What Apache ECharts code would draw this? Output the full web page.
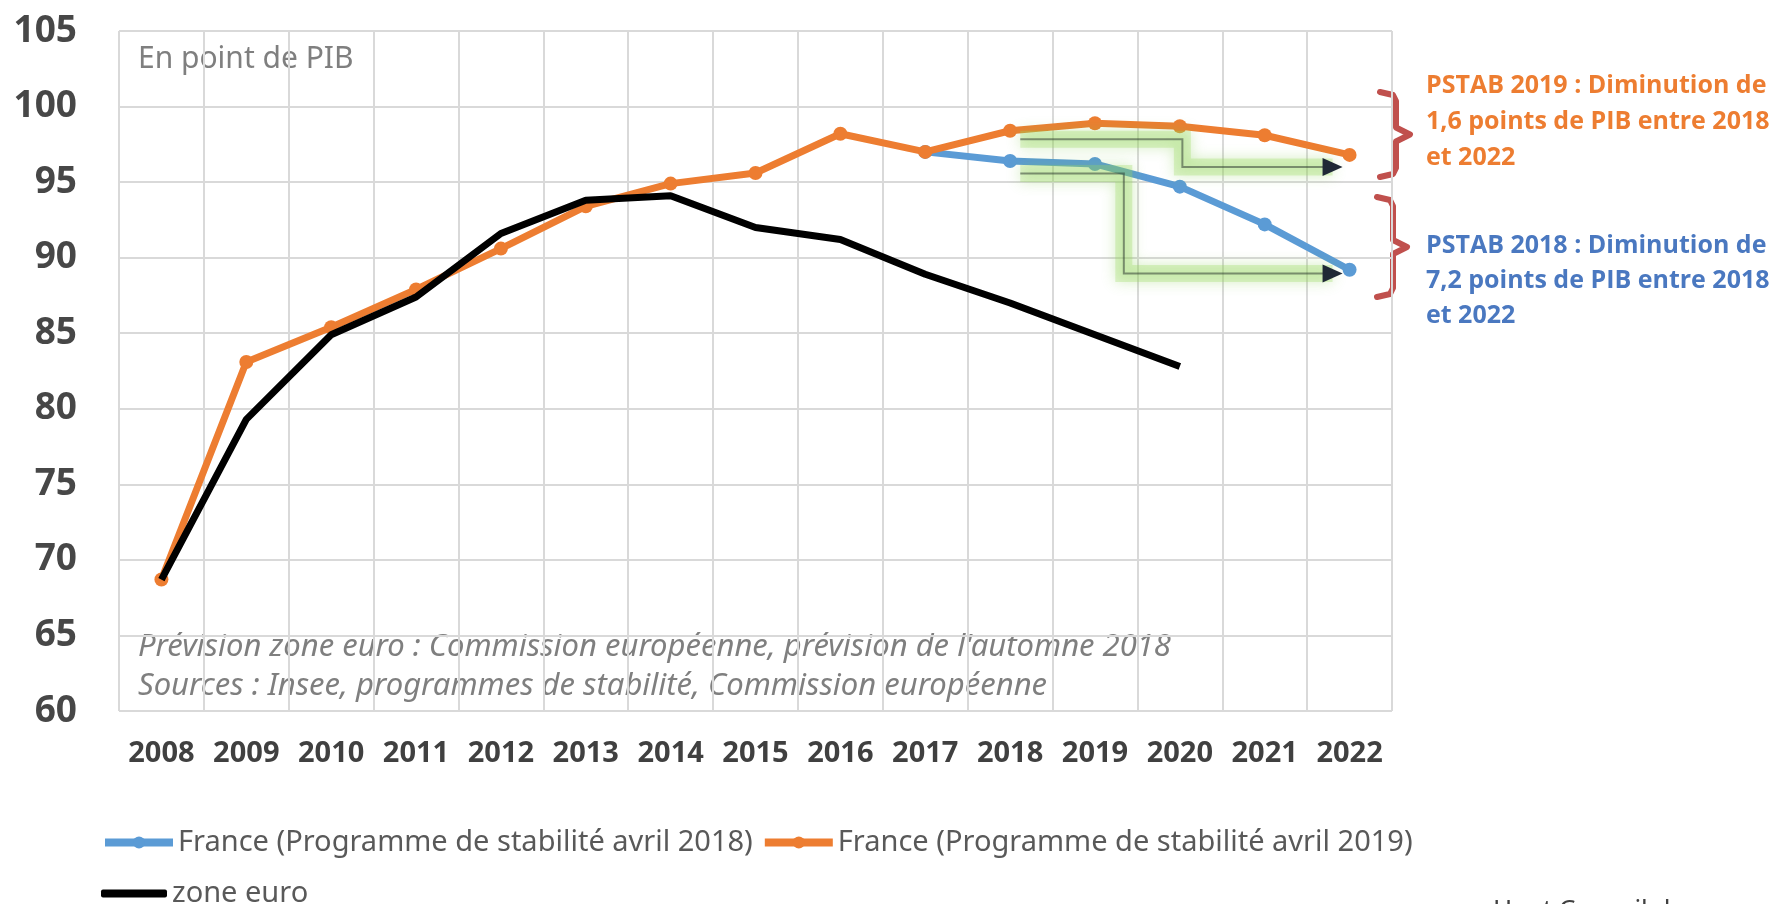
<!DOCTYPE html>
<html>
<head>
<meta charset="utf-8">
<script src="https://cdn.jsdelivr.net/npm/echarts@6/dist/echarts.min.js"></script>
<style>
  html, body { margin: 0; padding: 0; background: #fff; }
  #chart { width: 1777px; height: 904px; }
</style>
</head>
<body>
<div id="chart"></div>
<script>
// years on the x axis
const years = ['2008', '2009', '2010', '2011', '2012', '2013', '2014', '2015',
  '2016', '2017', '2018', '2019', '2020', '2021', '2022'];

// dette publique, en point de PIB
const pstab2018 = [null, null, null, null, null, null, null, null, null,
  97.0, 96.4, 96.2, 94.7, 92.2, 89.2];
const pstab2019 = [68.7, 83.1, 85.4, 87.9, 90.6, 93.4, 94.9, 95.6, 98.2,
  97.0, 98.4, 98.9, 98.7, 98.1, 96.8];
const zoneEuro = [68.7, 79.3, 84.9, 87.4, 91.6, 93.8, 94.1, 92.0, 91.2,
  88.9, 87.0, 84.9, 82.8, null, null];

// annotation arrows, in (year index, value) space
const arrowUpper = [[10.12, 97.84], [12.03, 97.84], [12.03, 96.0], [13.8, 96.0]];
const arrowLower = [[10.12, 95.57], [11.34, 95.57], [11.34, 88.95], [13.8, 88.95]];

const seriesNames = [
  'France (Programme de stabilité avril 2018)',
  'France (Programme de stabilité avril 2019)',
  'zone euro'
];

const BLUE = '#5b9bd5';
const ORANGE = '#ed7d31';
const GRID = '#d9d9d9';
const TEXT = '#595959';
const ARROW = '#1f2836';

const chart = echarts.init(document.getElementById('chart'));

// last point of each arrow gets a triangle head
function arrowTips(list) {
  return list.map(function (pts) { return pts[pts.length - 1]; });
}

// curly "}" bracket as a polyline
function bracket(x, top, bottom) {
  const mid = (top + bottom) / 2;
  const stem = x + 16;
  return [[x, top], [stem - 3, top + 3], [stem, top + 9], [stem, mid - 7], [stem + 14, mid],
    [stem, mid + 7], [stem, bottom - 9], [stem - 3, bottom - 3], [x, bottom]];
}

const legendText = { fontFamily: 'Noto Sans', fontSize: 29, color: TEXT };

const option = {
  animation: false,
  grid: { left: 119, right: 385, top: 31, bottom: 193 },
  legend: [
    {
      data: [seriesNames[0], seriesNames[1]],
      left: 96, top: 823,
      itemWidth: 68, itemHeight: 15, itemGap: 8,
      lineStyle: { width: 8 },
      textStyle: legendText
    },
    {
      data: [{ name: seriesNames[2], icon: 'roundRect' }],
      left: 96, top: 874,
      itemWidth: 66, itemHeight: 8,
      textStyle: legendText
    }
  ],
  xAxis: [
    {
      type: 'category',
      data: years,
      boundaryGap: true,
      axisLine: { show: false },
      axisTick: { show: false },
      splitLine: { show: true, interval: 0, lineStyle: { color: GRID, width: 2 } },
      axisLabel: {
        interval: 0,
        margin: 28,
        fontFamily: 'Noto Sans', fontSize: 29, fontWeight: 'bold', color: '#404040'
      }
    },
    { type: 'value', min: -0.5, max: 14.5, show: false, splitLine: { show: false } }
  ],
  yAxis: {
    type: 'value',
    min: 60, max: 105, interval: 5,
    axisLine: { show: false },
    axisTick: { show: false },
    splitLine: { lineStyle: { color: GRID, width: 2 } },
    axisLabel: {
      margin: 42,
      fontFamily: 'Noto Sans', fontSize: 37, fontWeight: 'bold', color: '#474747'
    }
  },
  series: [
    {
      name: seriesNames[0], type: 'line', data: pstab2018,
      color: BLUE, symbol: 'circle', symbolSize: 14,
      lineStyle: { width: 7, color: BLUE }, itemStyle: { color: BLUE }, z: 2
    },
    {
      name: seriesNames[1], type: 'line', data: pstab2019,
      color: ORANGE, symbol: 'circle', symbolSize: 14,
      lineStyle: { width: 7, color: ORANGE }, itemStyle: { color: ORANGE }, z: 3
    },
    {
      name: seriesNames[2], type: 'line', data: zoneEuro,
      color: '#000', symbol: 'none',
      lineStyle: { width: 7, color: '#000' }, z: 4
    },
    {
      // green glow under the arrows
      type: 'lines', xAxisIndex: 1, coordinateSystem: 'cartesian2d', polyline: true,
      silent: true, z: 5,
      lineStyle: {
        width: 17,
        color: 'rgba(155,218,95,0.6)',
        shadowBlur: 14,
        shadowColor: 'rgba(120,200,60,1)'
      },
      data: [{ coords: arrowUpper }, { coords: arrowLower }]
    },
    {
      type: 'lines', xAxisIndex: 1, coordinateSystem: 'cartesian2d', polyline: true,
      silent: true, z: 6,
      lineStyle: { width: 2, color: '#25302a' },
      data: [{ coords: arrowUpper }, { coords: arrowLower }]
    },
    {
      type: 'scatter', xAxisIndex: 1, silent: true, z: 7,
      symbol: 'triangle', symbolRotate: -90, symbolSize: [18, 20],
      itemStyle: { color: ARROW, opacity: 1 },
      data: arrowTips([arrowUpper, arrowLower])
    }
  ],
  graphic: [
    {
      type: 'text', left: 138, top: 44, silent: true,
      style: { text: 'En point de PIB', fontFamily: 'Noto Sans', fontSize: 30, fill: '#7f7f7f' }
    },
    {
      type: 'text', left: 138, top: 628, silent: true,
      style: {
        text: "Prévision zone euro : Commission européenne, prévision de l'automne 2018\nSources : Insee, programmes de stabilité, Commission européenne",
        fontFamily: 'Noto Sans', fontStyle: 'italic', fontSize: 31, lineHeight: 39, fill: '#7f7f7f'
      }
    },
    {
      type: 'polyline', silent: true,
      shape: { points: bracket(1380, 92, 177) },
      style: { fill: null, stroke: '#c0504d', lineWidth: 6, lineJoin: 'round', lineCap: 'round' }
    },
    {
      type: 'polyline', silent: true,
      shape: { points: bracket(1377, 197, 297) },
      style: { fill: null, stroke: '#c0504d', lineWidth: 6, lineJoin: 'round', lineCap: 'round' }
    },
    {
      type: 'text', left: 1426, top: 68, silent: true,
      style: {
        text: 'PSTAB 2019 : Diminution de\n1,6 points de PIB entre 2018\net 2022',
        fontFamily: 'Open Sans', fontWeight: 'bold', fontSize: 25, lineHeight: 36, fill: ORANGE
      }
    },
    {
      type: 'text', left: 1426, top: 228, silent: true,
      style: {
        text: 'PSTAB 2018 : Diminution de\n7,2 points de PIB entre 2018\net 2022',
        fontFamily: 'Open Sans', fontWeight: 'bold', fontSize: 25, lineHeight: 35, fill: '#4a78c0'
      }
    },
    {
      type: 'text', left: 1493, top: 898, silent: true,
      style: { text: 'Haut Conseil des', fontFamily: 'Noto Sans', fontSize: 26, fill: '#404040' }
    }
  ]
};

chart.setOption(option);
</script>
</body>
</html>
